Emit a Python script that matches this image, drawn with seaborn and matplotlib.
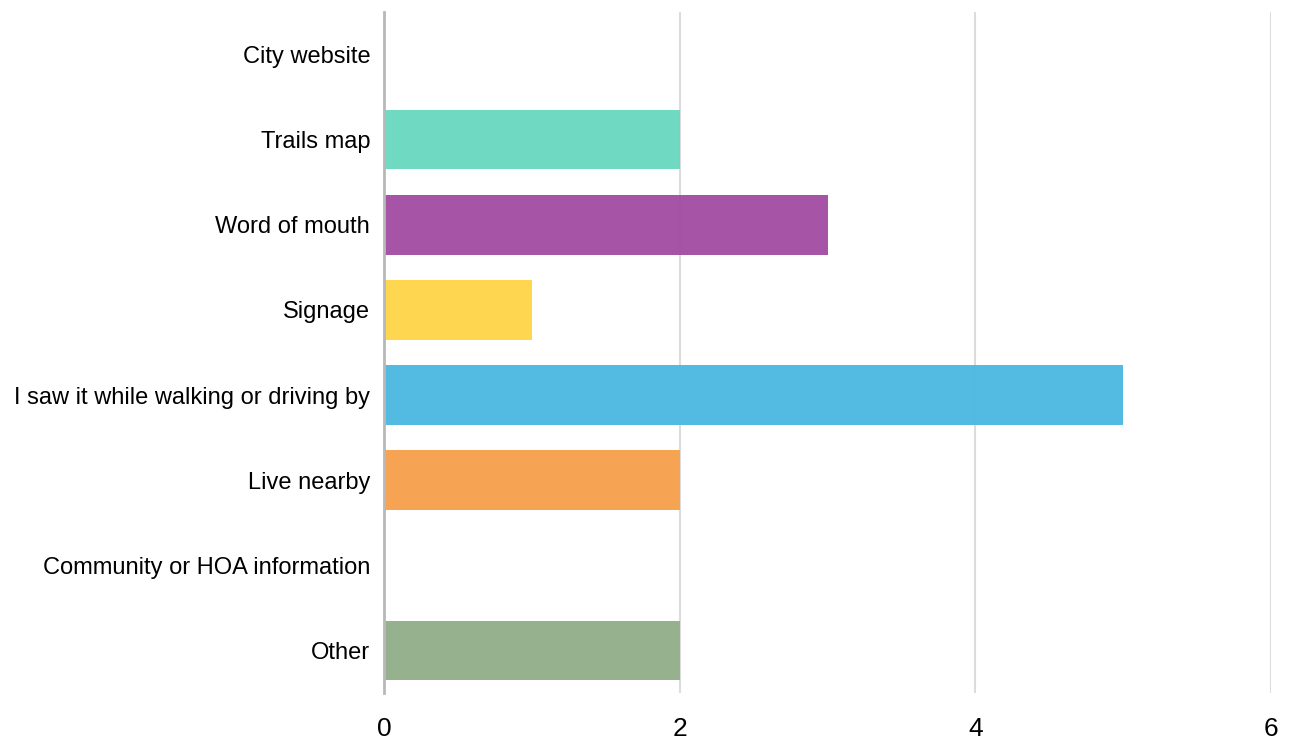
import matplotlib
matplotlib.use("Agg")
import matplotlib.pyplot as plt
import seaborn as sns
import pandas as pd
from matplotlib import font_manager

# survey answers: how did you hear about it
categories = [
    "City website",
    "Trails map",
    "Word of mouth",
    "Signage",
    "I saw it while walking or driving by",
    "Live nearby",
    "Community or HOA information",
    "Other",
]
counts = [0, 2, 3, 1, 5, 2, 0, 2]
bar_colors = [
    "#FFFFFF", "#6AD8C0", "#A34EA2", "#FED54A",
    "#4DB9E0", "#F6A04D", "#FFFFFF", "#93AF8A",
]
x_ticks = [0, 2, 4, 6]

sns.set_theme(style="white")
names = {f.name for f in font_manager.fontManager.ttflist}
fam = [f for f in ["Liberation Sans Narrow", "Liberation Sans", "DejaVu Sans"] if f in names]
plt.rcParams["font.family"] = fam

df = pd.DataFrame({"source": categories, "count": counts})

fig = plt.figure(figsize=(12.89, 7.44), dpi=100)
ax = fig.add_axes([0.298, 0.0685, 0.688, 0.9155])

sns.barplot(
    data=df, x="count", y="source", hue="source",
    palette=dict(zip(categories, bar_colors)),
    order=categories, orient="h", width=0.7, saturation=1,
    legend=False, ax=ax, alpha=0.97, zorder=2, linewidth=0,
)

ax.set_xlim(0, 6)
ax.set_ylim(7.5, -0.5)
ax.set_xticks(x_ticks)
ax.set_xticklabels([str(t) for t in x_ticks])
ax.set_xlabel("")
ax.set_ylabel("")

for t in x_ticks[1:]:
    ax.axvline(t, color="#dcdcdc", lw=1.5, zorder=1)

for s in ["top", "right", "bottom"]:
    ax.spines[s].set_visible(False)
ax.spines["left"].set_color("#b8b8b8")
ax.spines["left"].set_linewidth(2)
ax.spines["left"].set_zorder(3)

ax.tick_params(axis="x", length=0, pad=17, labelsize=19, labelcolor="black")
ax.tick_params(axis="y", length=0, pad=10, labelsize=17, labelcolor="black")

fig.savefig("out.png", dpi=100)
